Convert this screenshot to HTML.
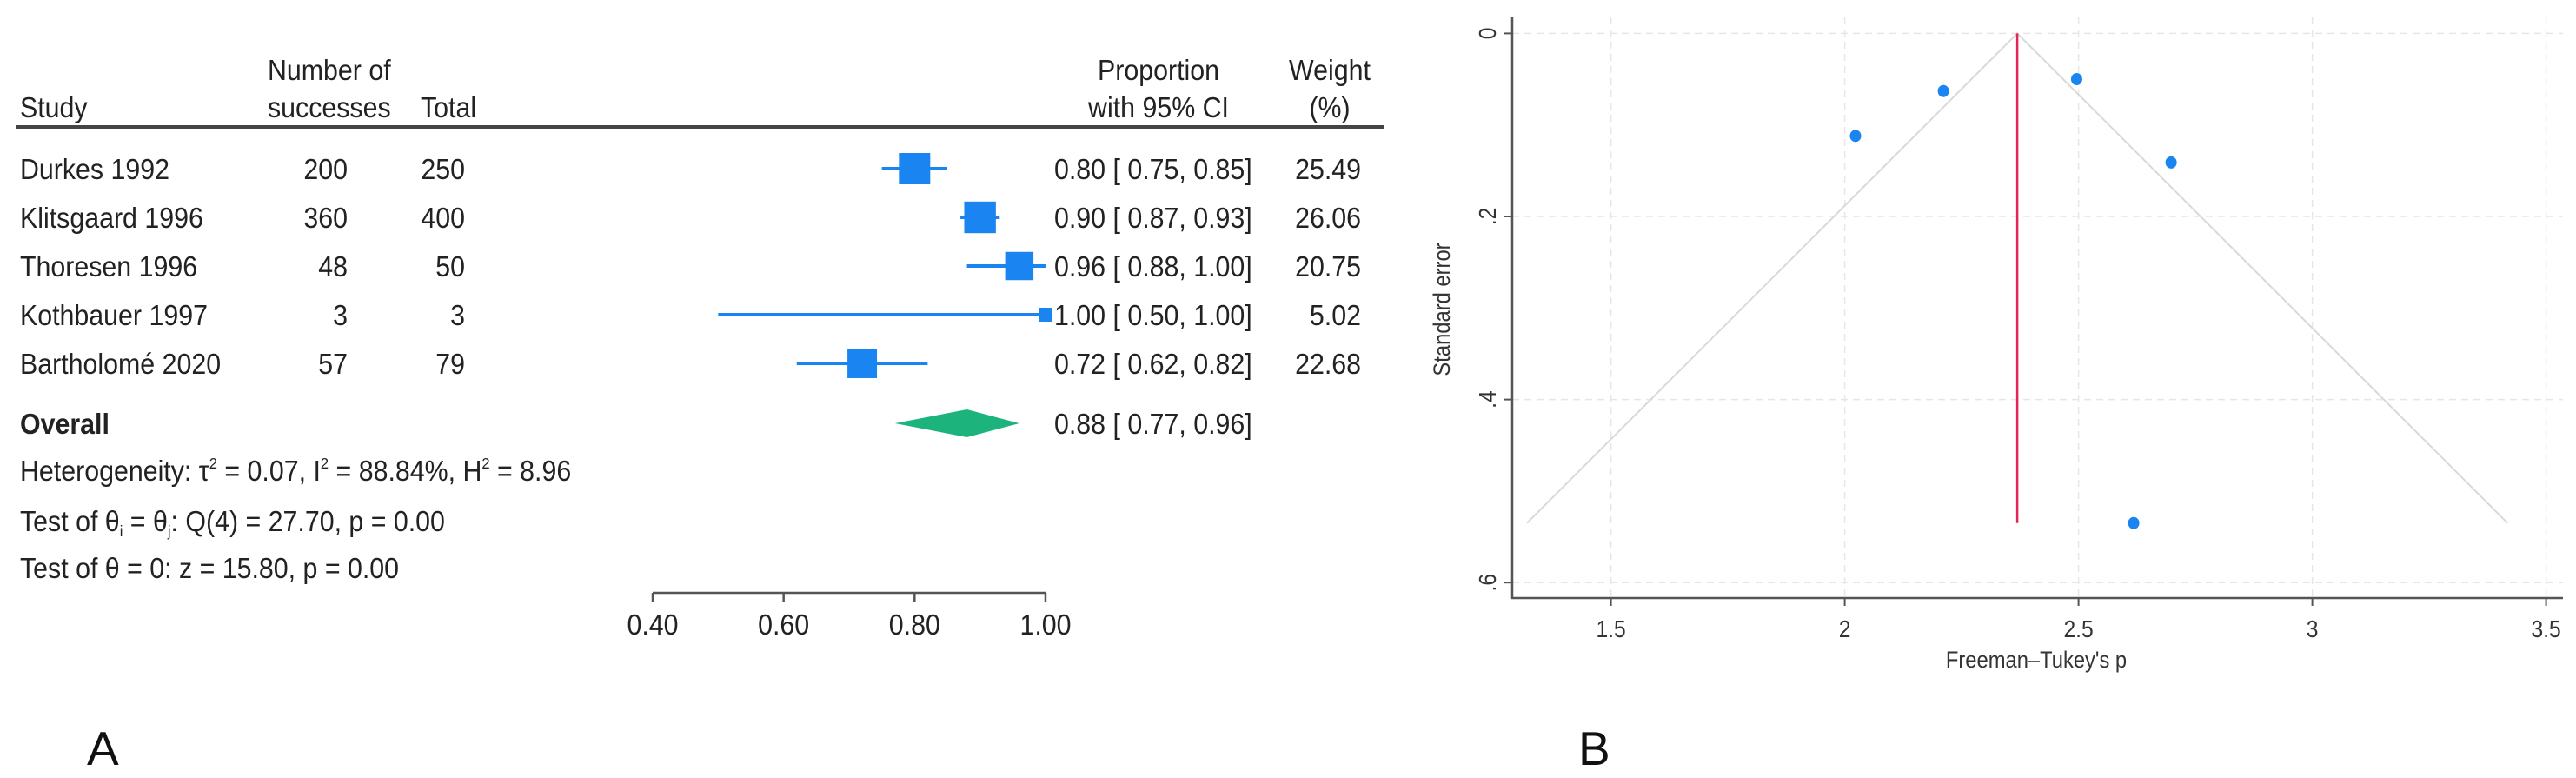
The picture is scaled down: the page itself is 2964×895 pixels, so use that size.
<!DOCTYPE html>
<html><head><meta charset="utf-8"><style>
html,body{margin:0;padding:0;background:#fff;}
svg{display:block;font-family:"Liberation Sans",sans-serif;}
</style></head><body>
<svg id="fig" width="2964" height="895" viewBox="0 0 2964 895" xmlns="http://www.w3.org/2000/svg">
<g id="panelA" font-size="33" fill="#222">
  <text transform="translate(308,92) scale(0.92,1)">Number of</text>
  <text transform="translate(23,135) scale(0.92,1)">Study</text>
  <text transform="translate(308,135) scale(0.92,1)">successes</text>
  <text transform="translate(484,135) scale(0.92,1)">Total</text>
  <text transform="translate(1333,92) scale(0.92,1)" text-anchor="middle">Proportion</text>
  <text transform="translate(1333,135) scale(0.92,1)" text-anchor="middle">with 95% CI</text>
  <text transform="translate(1530,92) scale(0.92,1)" text-anchor="middle">Weight</text>
  <text transform="translate(1530,135) scale(0.92,1)" text-anchor="middle">(%)</text>
  <line x1="18" y1="146" x2="1593" y2="146" stroke="#444" stroke-width="4"/>
  <text transform="translate(23,499) scale(0.92,1)" font-weight="bold">Overall</text>
  <text transform="translate(23,553) scale(0.92,1)">Heterogeneity: τ<tspan font-size="18" dy="-14">2</tspan><tspan dy="14"> = 0.07, I</tspan><tspan font-size="18" dy="-14">2</tspan><tspan dy="14"> = 88.84%, H</tspan><tspan font-size="18" dy="-14">2</tspan><tspan dy="14"> = 8.96</tspan></text>
  <text transform="translate(23,611) scale(0.92,1)">Test of θ<tspan font-size="18" dy="6">i</tspan><tspan dy="-6"> = θ</tspan><tspan font-size="18" dy="6">j</tspan><tspan dy="-6">: Q(4) = 27.70, p = 0.00</tspan></text>
  <text transform="translate(23,665) scale(0.92,1)">Test of θ = 0: z = 15.80, p = 0.00</text>
  <g id="rowsA"></g>
  <g id="axisA"></g>
  <text x="100" y="880" font-size="55" fill="#111">A</text>
</g>
<g id="panelB" fill="#333">
  <g id="gridB"></g>
  <g id="marksB"></g>
  <g id="axesB"></g>
  <text transform="translate(2343,768) scale(0.88,1)" text-anchor="middle" font-size="27">Freeman–Tukey's p</text>
  <text transform="translate(1668,356) rotate(-90) scale(0.88,1)" text-anchor="middle" font-size="27">Standard error</text>
  <text x="1816" y="880" font-size="55" fill="#111">B</text>
</g>
</svg>
<script>
const studies=["Durkes 1992","Klitsgaard 1996","Thoresen 1996","Kothbauer 1997","Bartholomé 2020"];
const successes=["200","360","48","3","57"];
const totals=["250","400","50","3","79"];
const props=[0.80,0.90,0.96,1.00,0.72];
const lows=[0.75,0.87,0.88,0.50,0.62];
const highs=[0.85,0.93,1.00,1.00,0.82];
const weights=[25.49,26.06,20.75,5.02,22.68];
const overall=[0.88,0.77,0.96];
const forestTicks=[0.40,0.60,0.80,1.00];
const funnelX=[2.023,2.211,2.496,2.698,2.618];
const funnelSE=[0.112,0.063,0.050,0.141,0.535];
const pooledEst=2.369;
const maxSE=0.535;
const xTicksB=[1.5,2,2.5,3,3.5];
const yTicksB=[0,0.2,0.4,0.6];
const yTickLabelsB=["0",".2",".4",".6"];

const NS="http://www.w3.org/2000/svg";
function mk(tag,attrs,parent){const e=document.createElementNS(NS,tag);for(const k in attrs)e.setAttribute(k,attrs[k]);parent.appendChild(e);return e;}
const fx=v=>751+(v-0.40)*753.3;
const rowY=i=>194+i*56;
const fmt=v=>v.toFixed(2);
const rowsA=document.getElementById('rowsA');
const blue="#1a85f0";
studies.forEach((s,i)=>{
  const y=rowY(i);
  let t=mk('text',{transform:`translate(23,${y+12}) scale(0.92,1)`},rowsA);t.textContent=s;
  
  
  t=mk('text',{transform:`translate(400,${y+12}) scale(0.92,1)`,'text-anchor':'end'},rowsA);t.textContent=successes[i];
  
  
  t=mk('text',{transform:`translate(535,${y+12}) scale(0.92,1)`,'text-anchor':'end'},rowsA);t.textContent=totals[i];
  
  
  t=mk('text',{transform:`translate(1213,${y+12}) scale(0.92,1)`,'xml:space':'preserve'},rowsA);t.textContent=`${fmt(props[i])} [ ${fmt(lows[i])},  ${fmt(highs[i])}]`;
  
  
  t=mk('text',{transform:`translate(1566,${y+12}) scale(0.92,1)`,'text-anchor':'end'},rowsA);t.textContent=weights[i].toFixed(2);
  
  
  const l=mk('line',{x1:fx(lows[i]),x2:fx(highs[i]),y1:y,y2:y,stroke:blue,'stroke-width':4},rowsA);
  
  
  const sz=7.13*Math.sqrt(weights[i]);
  const r=mk('rect',{x:fx(props[i])-sz/2,y:y-sz/2,width:sz,height:sz,fill:blue},rowsA);
  
  
});
const oy=487;
const d=mk('polygon',{points:`${fx(overall[1])},${oy} ${fx(overall[0])},${oy-16} ${fx(overall[2])},${oy} ${fx(overall[0])},${oy+16}`,fill:"#1cb47c"},rowsA);


let ot=mk('text',{transform:`translate(1213,${oy+12}) scale(0.92,1)`,'xml:space':'preserve'},rowsA);ot.textContent=`${fmt(overall[0])} [ ${fmt(overall[1])},  ${fmt(overall[2])}]`;


const axisA=document.getElementById('axisA');
mk('line',{x1:fx(forestTicks[0]),x2:fx(forestTicks[forestTicks.length-1]),y1:682,y2:682,stroke:"#555",'stroke-width':2.5},axisA);
forestTicks.forEach(v=>{
  const tk=mk('line',{x1:fx(v),x2:fx(v),y1:682,y2:692,stroke:"#555",'stroke-width':2.5},axisA);
  
  
  const tl=mk('text',{transform:`translate(${fx(v)},730) scale(0.92,1)`,'text-anchor':'middle'},axisA);tl.textContent=fmt(v);
  
  
});

// Panel B
const bx=v=>1853.6+(v-1.5)*538;
const by=v=>38.4+v*1053;
const gridB=document.getElementById('gridB');
xTicksB.forEach(v=>{
  const g=mk('line',{x1:bx(v),x2:bx(v),y1:20,y2:688,stroke:"#e6e6e6",'stroke-width':1.5,'stroke-dasharray':'8,6'},gridB);
  
  
});
yTicksB.forEach(v=>{
  const g=mk('line',{x1:1740,x2:2949,y1:by(v),y2:by(v),stroke:"#e6e6e6",'stroke-width':1.5,'stroke-dasharray':'8,6'},gridB);
  
  
});
const marksB=document.getElementById('marksB');
const fl=mk('polyline',{points:`${bx(pooledEst-1.96*maxSE)},${by(maxSE)} ${bx(pooledEst)},${by(0)} ${bx(pooledEst+1.96*maxSE)},${by(maxSE)}`,fill:"none",stroke:"#d9d9d9",'stroke-width':2},marksB);


const rl=mk('line',{x1:bx(pooledEst),x2:bx(pooledEst),y1:by(0),y2:by(maxSE),stroke:"#e3245a",'stroke-width':2.5},marksB);


funnelX.forEach((v,i)=>{
  const c=mk('ellipse',{cx:bx(v),cy:by(funnelSE[i]),rx:6.5,ry:7,fill:"#1a85f0"},marksB);
  
  
});
const axesB=document.getElementById('axesB');
mk('line',{x1:1740,x2:1740,y1:20,y2:689,stroke:"#555",'stroke-width':2.5},axesB);
mk('line',{x1:1739,x2:2949,y1:688,y2:688,stroke:"#555",'stroke-width':2.5},axesB);
xTicksB.forEach(v=>{
  const tk=mk('line',{x1:bx(v),x2:bx(v),y1:688,y2:697,stroke:"#555",'stroke-width':2},axesB);
  
  
  const tl=mk('text',{transform:`translate(${bx(v)},733) scale(0.88,1)`,'text-anchor':'middle','font-size':28},axesB);tl.textContent=String(v);
  
  
});
yTicksB.forEach((v,i)=>{
  const tk=mk('line',{x1:1731,x2:1740,y1:by(v),y2:by(v),stroke:"#555",'stroke-width':2},axesB);
  
  
  const tl=mk('text',{transform:`translate(1721,${by(v)}) rotate(-90) scale(0.88,1)`,'text-anchor':'middle','font-size':28},axesB);tl.textContent=yTickLabelsB[i];
  
  
});
</script>
</body></html>
